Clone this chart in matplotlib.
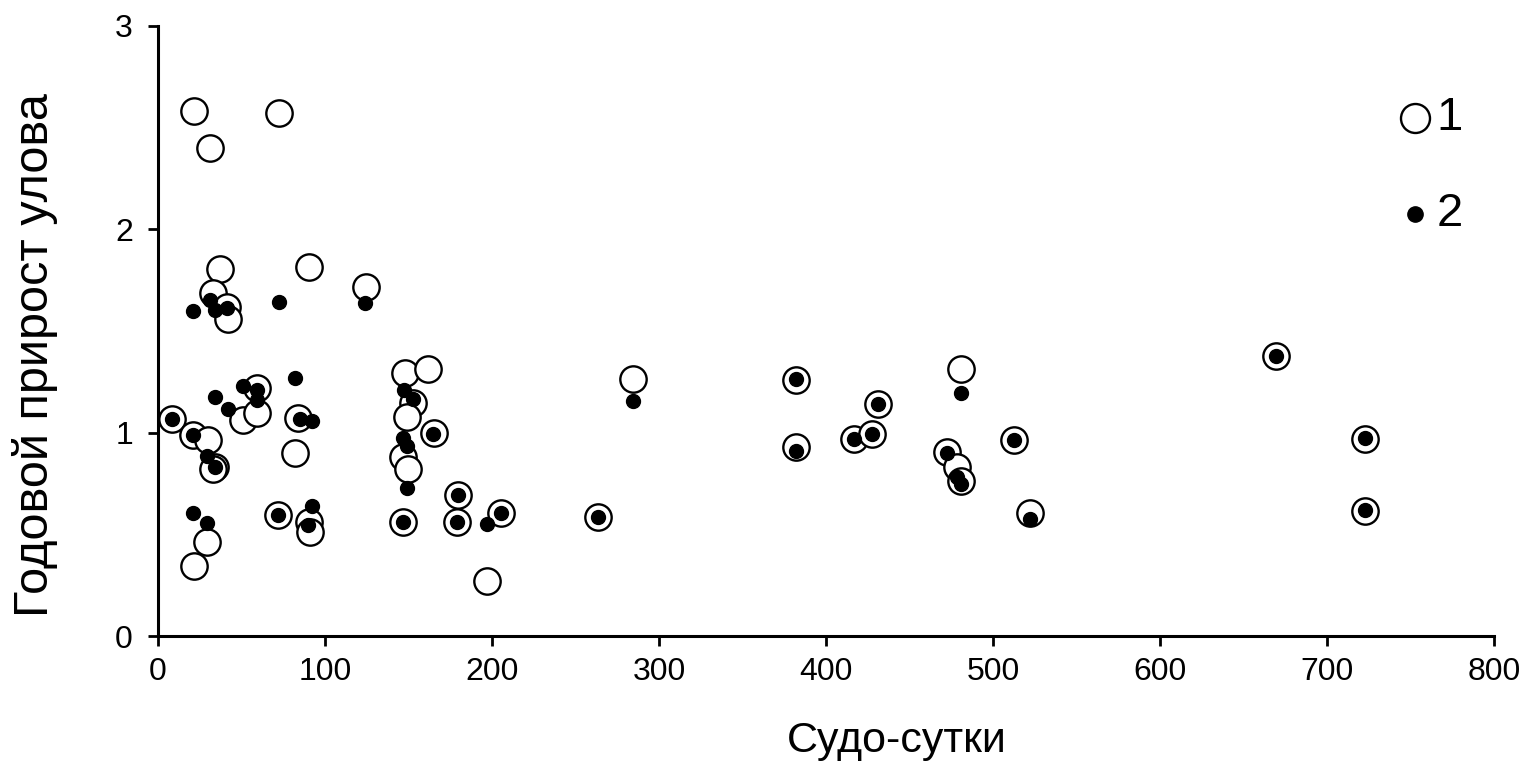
import matplotlib
matplotlib.use("Agg")
import matplotlib.pyplot as plt
import numpy as np

plt.rcParams['font.family'] = ['Liberation Sans', 'DejaVu Sans']

# series 1 - open circles
x1 = [21.6, 72.3, 31.3, 37.1, 90.6, 124.3, 33.1, 41.1, 42.1, 8.2,
      21.2, 30.1, 59.1, 51.1, 59.1, 84.0, 82.0, 34.1, 33.0, 29.1,
      21.6, 72.0, 90.6, 91.0, 147.9, 161.9, 152.9, 148.9, 165.4, 146.9,
      149.5, 179.8, 146.9, 178.8, 205.4, 196.8, 263.5, 284.4, 382.0, 382.0,
      431.0, 416.8, 427.3, 480.6, 472.7, 478.7, 480.6, 512.8, 522.0, 669.5,
      722.8, 722.8]
y1 = [2.58, 2.57, 2.40, 1.805, 1.814, 1.715, 1.686, 1.62, 1.558, 1.066,
      0.989, 0.964, 1.218, 1.062, 1.095, 1.071, 0.902, 0.833, 0.82, 0.464,
      0.344, 0.595, 0.562, 0.513, 1.293, 1.312, 1.145, 1.079, 0.997, 0.879,
      0.820, 0.694, 0.562, 0.562, 0.604, 0.272, 0.585, 1.264, 1.259, 0.928,
      1.141, 0.967, 0.994, 1.312, 0.907, 0.833, 0.760, 0.964, 0.607, 1.377,
      0.970, 0.615]

# series 2 - filled dots
x2 = [20.7, 31.1, 34.1, 41.1, 72.3, 124.0, 8.2, 21.2, 34.1, 42.1,
      51.1, 59.1, 59.1, 82.0, 85.0, 92.0, 29.1, 34.1, 21.2, 29.5,
      72.0, 92.0, 90.0, 147.5, 152.9, 164.5, 146.9, 148.9, 148.9, 179.8,
      146.9, 178.8, 196.8, 205.4, 263.5, 284.4, 382.0, 382.0, 431.0, 416.8,
      427.3, 480.6, 472.7, 478.7, 480.6, 512.8, 522.0, 669.5, 722.8, 722.8]
y2 = [1.60, 1.653, 1.604, 1.612, 1.645, 1.64, 1.066, 0.989, 1.177, 1.115,
      1.23, 1.21, 1.161, 1.271, 1.068, 1.059, 0.883, 0.83, 0.607, 0.554,
      0.595, 0.639, 0.546, 1.21, 1.164, 0.992, 0.976, 0.935, 0.727, 0.694,
      0.562, 0.562, 0.55, 0.604, 0.585, 1.156, 1.264, 0.912, 1.141, 0.967,
      0.994, 1.194, 0.900, 0.784, 0.748, 0.964, 0.574, 1.377, 0.975, 0.62]

xticks = [0, 100, 200, 300, 400, 500, 600, 700, 800]
yticks = [0, 1, 2, 3]

fig = plt.figure(figsize=(15.25, 7.64), dpi=100)
ax = fig.add_axes([0.1036, 0.1675, 0.8761, 0.7985])

ax.scatter(x1, y1, s=360, facecolors='white', edgecolors='black', linewidths=1.7,
           label='1', zorder=2)
ax.scatter(x2, y2, s=100, color='black', label='2', zorder=3)

ax.set_xlim(0, 800)
ax.set_ylim(0, 3)
ax.set_xticks(xticks)
ax.set_yticks(yticks)
ax.spines['top'].set_visible(False)
ax.spines['right'].set_visible(False)
ax.spines['left'].set_linewidth(2.2)
ax.spines['bottom'].set_linewidth(2.2)
ax.tick_params(direction='out', length=7, width=2, labelsize=23)
ax.tick_params(axis='x', pad=8)
ax.tick_params(axis='y', pad=11)

ax.set_xlabel('Судо-сутки', fontsize=31)
ax.xaxis.set_label_coords(0.553, -0.14)
ax.set_ylabel('Годовой прирост улова', fontsize=35)
ax.yaxis.set_label_coords(-0.075, 0.46)

ax.legend(loc='center left', bbox_to_anchor=(0.925, 0.77), frameon=False,
          fontsize=34, labelspacing=1.1, handletextpad=0.0, handlelength=0.9,
          borderaxespad=0, borderpad=0, markerscale=1.1)

fig.savefig('out.png', dpi=100)
